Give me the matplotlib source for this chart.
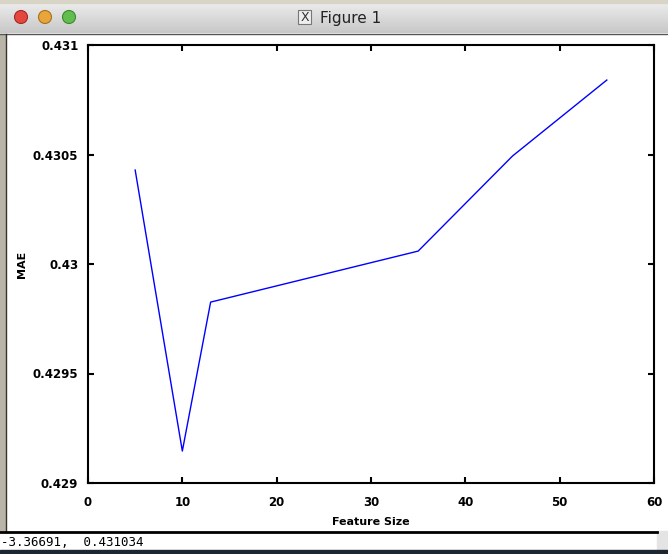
import matplotlib
matplotlib.use("Agg")
import matplotlib.pyplot as plt
import numpy as np
from matplotlib.patches import Rectangle, Circle

# data
featureSize = [5, 10, 13, 35, 45, 55]
mae = [0.430429, 0.429146, 0.429826, 0.430059, 0.430493, 0.430840]
xTicks = [0, 10, 20, 30, 40, 50, 60]
yTicks = [0.429, 0.4295, 0.43, 0.4305, 0.431]
yTickLabels = ["0.429", "0.4295", "0.43", "0.4305", "0.431"]
statusText = "-3.36691,  0.431034"
windowTitle = "Figure 1"

W, H = 668, 554
fig = plt.figure(figsize=(W / 100, H / 100), dpi=100)
fig.patch.set_facecolor("white")

# window chrome drawn in pixel coordinates
chrome = fig.add_axes([0, 0, 1, 1], zorder=0)
chrome.set_xlim(0, W)
chrome.set_ylim(H, 0)
chrome.axis("off")

grad = np.linspace(0.92, 0.78, 30).reshape(-1, 1)
chrome.imshow(grad, cmap="gray", vmin=0, vmax=1, aspect="auto",
              extent=[0, W, 33, 3], zorder=1)
chrome.add_patch(Rectangle((0, 0), W, 3, color="#d8d4c6", zorder=1))
chrome.plot([0, W], [33.5, 33.5], color="#555555", lw=1, zorder=2)
for cx, col, edge in [(21, "#e5473f", "#a02a24"), (45, "#e8a53a", "#a8701c"),
                      (69, "#62bd4f", "#3a8a2c")]:
    chrome.add_patch(Circle((cx, 17), 6.5, facecolor=col, edgecolor=edge, lw=0.8, zorder=3))
chrome.add_patch(Rectangle((298, 10), 13, 14, facecolor="#eeeeee", edgecolor="#777777",
                           lw=0.8, zorder=3))
chrome.text(304.5, 17.5, "X", ha="center", va="center", fontsize=9, color="#333333", zorder=4)
chrome.text(320, 18, windowTitle, ha="left", va="center", fontsize=11, color="#222222", zorder=4)

# left border
chrome.add_patch(Rectangle((0, 34), 5, 497, color="#b8b4a8", zorder=1))
chrome.plot([5.5, 5.5], [34, 531], color="#3a3028", lw=1, zorder=2)

# status bar
chrome.plot([0, 657], [532, 532], color="black", lw=2, zorder=2)
chrome.add_patch(Rectangle((657, 531), W - 657, 19, color="#e4e4e4", zorder=1))
chrome.text(1, 542, statusText, ha="left", va="center", fontsize=9,
            family="DejaVu Sans Mono", color="black", zorder=4)
chrome.add_patch(Rectangle((0, 550), W, 4, color="#1c2630", zorder=1))

# plot axes
ax = fig.add_axes([88 / W, (H - 483) / H, (654 - 88) / W, (483 - 45) / H], zorder=2)
ax.plot(featureSize, mae, color="#0000ff", lw=1)
ax.set_xlim(0, 60)
ax.set_ylim(0.429, 0.431)
ax.set_xticks(xTicks)
ax.set_yticks(yTicks)
ax.set_yticklabels(yTickLabels)
ax.tick_params(direction="in", length=4, width=1.5, top=True, right=True,
               labelsize=8.5)
ax.tick_params(axis="x", pad=9)
ax.tick_params(axis="y", pad=7)
for lbl in ax.get_xticklabels() + ax.get_yticklabels():
    lbl.set_fontweight("bold")
for sp in ax.spines.values():
    sp.set_linewidth(1.5)
ax.set_xlabel("Feature Size", fontsize=8, fontweight="bold", labelpad=6)
ax.set_ylabel("MAE", fontsize=8, fontweight="bold", labelpad=4)

fig.savefig("out.png", dpi=100)
